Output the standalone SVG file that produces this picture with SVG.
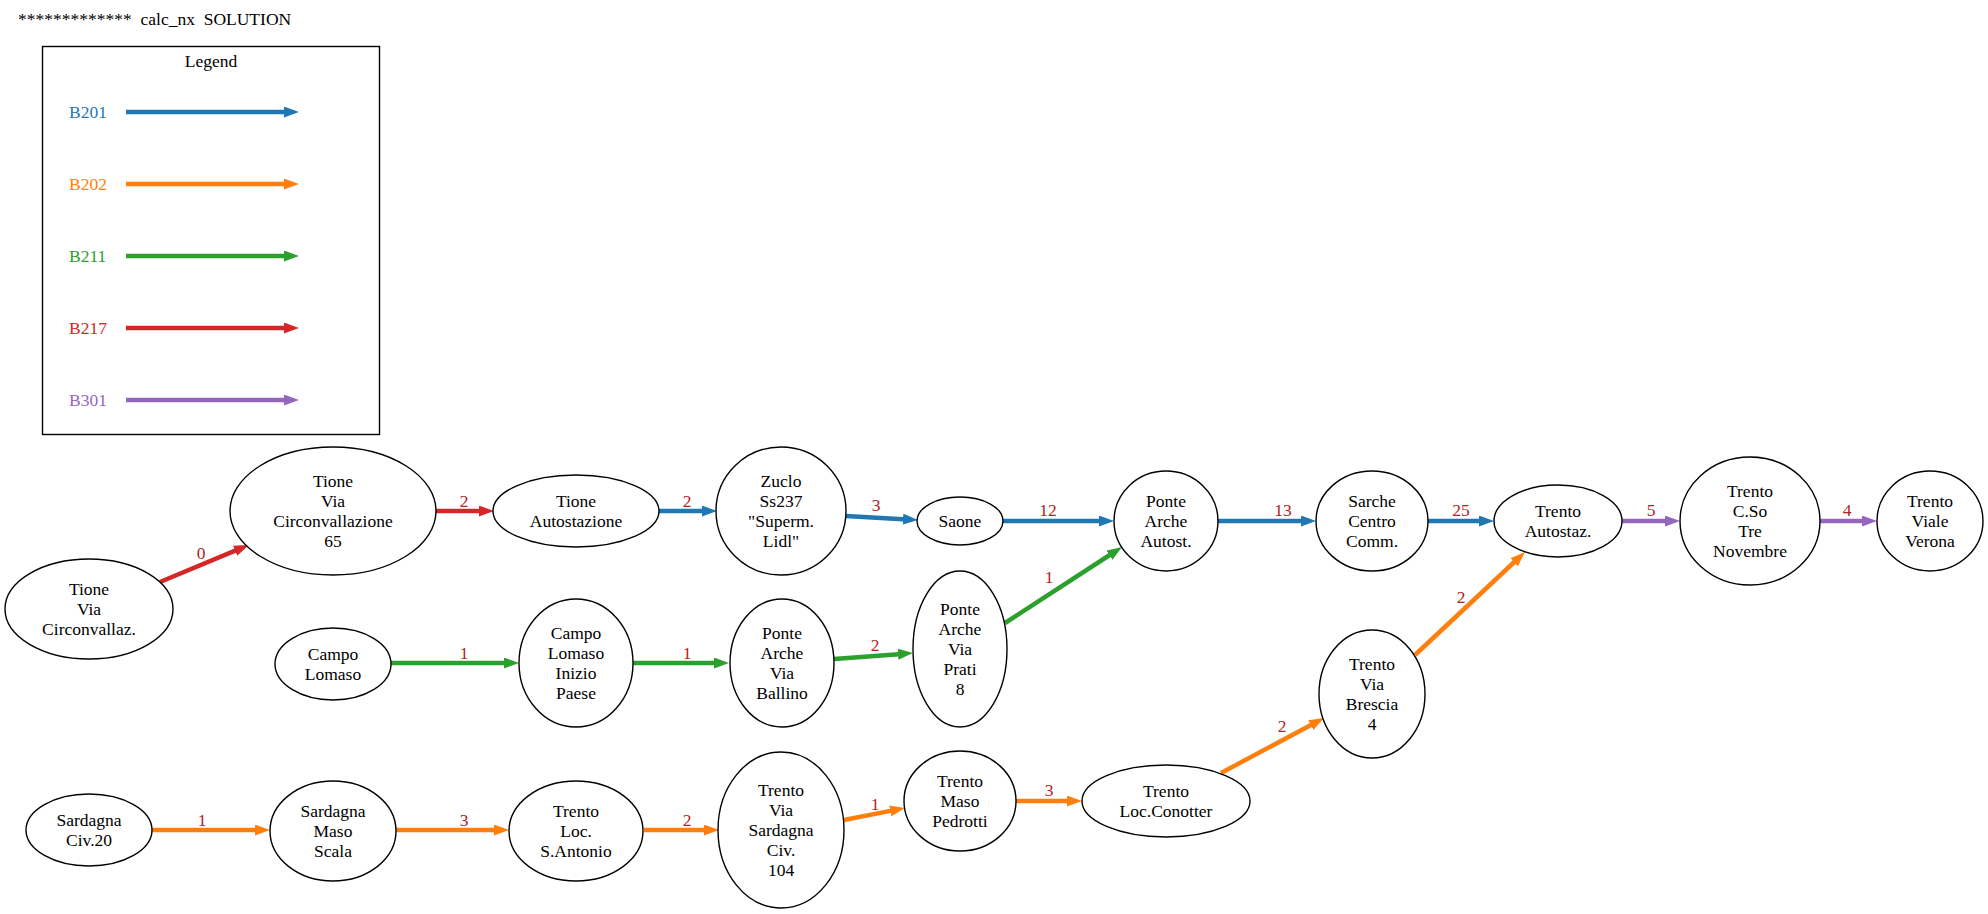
<svg xmlns="http://www.w3.org/2000/svg" width="1988" height="914" viewBox="0 0 1988 914" font-family="'Liberation Serif', 'Times New Roman', Times, 'DejaVu Serif', serif">
<style>
text{font-family:"Liberation Serif","Times New Roman",Times,"DejaVu Serif",serif;font-size:17.5px;fill:#000}
.nt{text-anchor:middle}
.el{text-anchor:middle;fill:#b22222}
.node ellipse{fill:#fff;stroke:#000;stroke-width:1.4}
.e{fill:none;stroke-width:4.5}
.b1{stroke:#1f77b4}.o1{stroke:#ff7f0e}.g1{stroke:#2ca02c}.r1{stroke:#d62728}.p1{stroke:#9467bd}
</style>
<defs>
<marker id="ab" markerUnits="userSpaceOnUse" markerWidth="15" markerHeight="11" refX="4" refY="5.5" orient="auto"><path d="M0,0 L15,5.5 L0,11 z" fill="#1f77b4"/></marker>
<marker id="ao" markerUnits="userSpaceOnUse" markerWidth="15" markerHeight="11" refX="4" refY="5.5" orient="auto"><path d="M0,0 L15,5.5 L0,11 z" fill="#ff7f0e"/></marker>
<marker id="ag" markerUnits="userSpaceOnUse" markerWidth="15" markerHeight="11" refX="4" refY="5.5" orient="auto"><path d="M0,0 L15,5.5 L0,11 z" fill="#2ca02c"/></marker>
<marker id="ar" markerUnits="userSpaceOnUse" markerWidth="15" markerHeight="11" refX="4" refY="5.5" orient="auto"><path d="M0,0 L15,5.5 L0,11 z" fill="#d62728"/></marker>
<marker id="ap" markerUnits="userSpaceOnUse" markerWidth="15" markerHeight="11" refX="4" refY="5.5" orient="auto"><path d="M0,0 L15,5.5 L0,11 z" fill="#9467bd"/></marker>
</defs>
<rect width="1988" height="914" fill="#fff"/>
<text x="18" y="25" xml:space="preserve">*************  calc_nx  SOLUTION</text>
<g id="legend">
<rect x="42.5" y="46.5" width="337" height="388" fill="none" stroke="#000" stroke-width="1.4"/>
<text x="211" y="67" class="nt">Legend</text>
<text x="69" y="118" style="fill:#1f77b4">B201</text>
<line x1="126" y1="112" x2="288" y2="112" class="e b1" marker-end="url(#ab)"/>
<text x="69" y="190" style="fill:#ff7f0e">B202</text>
<line x1="126" y1="184" x2="288" y2="184" class="e o1" marker-end="url(#ao)"/>
<text x="69" y="262" style="fill:#2ca02c">B211</text>
<line x1="126" y1="256" x2="288" y2="256" class="e g1" marker-end="url(#ag)"/>
<text x="69" y="334" style="fill:#d62728">B217</text>
<line x1="126" y1="328" x2="288" y2="328" class="e r1" marker-end="url(#ar)"/>
<text x="69" y="406" style="fill:#9467bd">B301</text>
<line x1="126" y1="400" x2="288" y2="400" class="e p1" marker-end="url(#ap)"/>
</g>
<g id="edges">
<line x1="160" y1="582" x2="238.8" y2="549.2" class="e r1" marker-end="url(#ar)"/><text x="201" y="559" class="el">0</text>
<line x1="436" y1="511" x2="483" y2="511" class="e r1" marker-end="url(#ar)"/><text x="464" y="507" class="el">2</text>
<line x1="659" y1="511" x2="706" y2="511" class="e b1" marker-end="url(#ab)"/><text x="687" y="507" class="el">2</text>
<line x1="846" y1="516" x2="907" y2="519.4" class="e b1" marker-end="url(#ab)"/><text x="876" y="511" class="el">3</text>
<line x1="1003" y1="521" x2="1103" y2="521" class="e b1" marker-end="url(#ab)"/><text x="1048" y="516" class="el">12</text>
<line x1="1218" y1="521" x2="1305" y2="521" class="e b1" marker-end="url(#ab)"/><text x="1283" y="516" class="el">13</text>
<line x1="1428" y1="521" x2="1483" y2="521" class="e b1" marker-end="url(#ab)"/><text x="1461" y="516" class="el">25</text>
<line x1="1622" y1="521" x2="1669" y2="521" class="e p1" marker-end="url(#ap)"/><text x="1651" y="516" class="el">5</text>
<line x1="1820" y1="521" x2="1866" y2="521" class="e p1" marker-end="url(#ap)"/><text x="1847" y="516" class="el">4</text>
<line x1="391" y1="663" x2="508" y2="663" class="e g1" marker-end="url(#ag)"/><text x="464" y="659" class="el">1</text>
<line x1="633" y1="663" x2="718" y2="663" class="e g1" marker-end="url(#ag)"/><text x="687" y="659" class="el">1</text>
<line x1="834" y1="659" x2="902" y2="653.9" class="e g1" marker-end="url(#ag)"/><text x="875" y="651" class="el">2</text>
<line x1="1005" y1="623" x2="1112.8" y2="553" class="e g1" marker-end="url(#ag)"/><text x="1049" y="583" class="el">1</text>
<line x1="152" y1="830" x2="259" y2="830" class="e o1" marker-end="url(#ao)"/><text x="202" y="826" class="el">1</text>
<line x1="396" y1="830" x2="498" y2="830" class="e o1" marker-end="url(#ao)"/><text x="464" y="826" class="el">3</text>
<line x1="644" y1="830" x2="708" y2="830" class="e o1" marker-end="url(#ao)"/><text x="687" y="826" class="el">2</text>
<line x1="844" y1="820" x2="894.2" y2="810.1" class="e o1" marker-end="url(#ao)"/><text x="875" y="810" class="el">1</text>
<line x1="1016" y1="801" x2="1071" y2="801" class="e o1" marker-end="url(#ao)"/><text x="1049" y="796" class="el">3</text>
<line x1="1221" y1="773" x2="1314.3" y2="723.2" class="e o1" marker-end="url(#ao)"/><text x="1282" y="732" class="el">2</text>
<line x1="1415" y1="655" x2="1517" y2="559.5" class="e o1" marker-end="url(#ao)"/><text x="1461" y="603" class="el">2</text>
</g>
<g id="n_tvcz" class="node"><ellipse cx="89" cy="609" rx="84" ry="50"/><text class="nt" x="89" y="595">Tione</text><text class="nt" x="89" y="615">Via</text><text class="nt" x="89" y="635">Circonvallaz.</text></g>
<g id="n_tvc65" class="node"><ellipse cx="333" cy="511" rx="103" ry="64"/><text class="nt" x="333" y="487">Tione</text><text class="nt" x="333" y="507">Via</text><text class="nt" x="333" y="527">Circonvallazione</text><text class="nt" x="333" y="547">65</text></g>
<g id="n_taut" class="node"><ellipse cx="576" cy="511" rx="83" ry="36"/><text class="nt" x="576" y="507">Tione</text><text class="nt" x="576" y="527">Autostazione</text></g>
<g id="n_zuclo" class="node"><ellipse cx="781" cy="511" rx="65" ry="64"/><text class="nt" x="781" y="487">Zuclo</text><text class="nt" x="781" y="507">Ss237</text><text class="nt" x="781" y="527">"Superm.</text><text class="nt" x="781" y="547">Lidl"</text></g>
<g id="n_saone" class="node"><ellipse cx="960" cy="521" rx="43" ry="24"/><text class="nt" x="960" y="527">Saone</text></g>
<g id="n_paa" class="node"><ellipse cx="1166" cy="521" rx="52" ry="50"/><text class="nt" x="1166" y="507">Ponte</text><text class="nt" x="1166" y="527">Arche</text><text class="nt" x="1166" y="547">Autost.</text></g>
<g id="n_sarche" class="node"><ellipse cx="1372" cy="521" rx="56" ry="50"/><text class="nt" x="1372" y="507">Sarche</text><text class="nt" x="1372" y="527">Centro</text><text class="nt" x="1372" y="547">Comm.</text></g>
<g id="n_taz" class="node"><ellipse cx="1558" cy="521" rx="64" ry="36"/><text class="nt" x="1558" y="517">Trento</text><text class="nt" x="1558" y="537">Autostaz.</text></g>
<g id="n_cso" class="node"><ellipse cx="1750" cy="521" rx="70" ry="64"/><text class="nt" x="1750" y="497">Trento</text><text class="nt" x="1750" y="517">C.So</text><text class="nt" x="1750" y="537">Tre</text><text class="nt" x="1750" y="557">Novembre</text></g>
<g id="n_vv" class="node"><ellipse cx="1930" cy="521" rx="53" ry="50"/><text class="nt" x="1930" y="507">Trento</text><text class="nt" x="1930" y="527">Viale</text><text class="nt" x="1930" y="547">Verona</text></g>
<g id="n_cl" class="node"><ellipse cx="333" cy="664" rx="58" ry="36"/><text class="nt" x="333" y="660">Campo</text><text class="nt" x="333" y="680">Lomaso</text></g>
<g id="n_clip" class="node"><ellipse cx="576" cy="663" rx="57" ry="64"/><text class="nt" x="576" y="639">Campo</text><text class="nt" x="576" y="659">Lomaso</text><text class="nt" x="576" y="679">Inizio</text><text class="nt" x="576" y="699">Paese</text></g>
<g id="n_pavb" class="node"><ellipse cx="782" cy="663" rx="52" ry="64"/><text class="nt" x="782" y="639">Ponte</text><text class="nt" x="782" y="659">Arche</text><text class="nt" x="782" y="679">Via</text><text class="nt" x="782" y="699">Ballino</text></g>
<g id="n_pavp" class="node"><ellipse cx="960" cy="649" rx="47" ry="78"/><text class="nt" x="960" y="615">Ponte</text><text class="nt" x="960" y="635">Arche</text><text class="nt" x="960" y="655">Via</text><text class="nt" x="960" y="675">Prati</text><text class="nt" x="960" y="695">8</text></g>
<g id="n_sc20" class="node"><ellipse cx="89" cy="830" rx="63" ry="36"/><text class="nt" x="89" y="826">Sardagna</text><text class="nt" x="89" y="846">Civ.20</text></g>
<g id="n_sms" class="node"><ellipse cx="333" cy="831" rx="63" ry="50"/><text class="nt" x="333" y="817">Sardagna</text><text class="nt" x="333" y="837">Maso</text><text class="nt" x="333" y="857">Scala</text></g>
<g id="n_tlsa" class="node"><ellipse cx="576" cy="831" rx="67" ry="50"/><text class="nt" x="576" y="817">Trento</text><text class="nt" x="576" y="837">Loc.</text><text class="nt" x="576" y="857">S.Antonio</text></g>
<g id="n_tvs" class="node"><ellipse cx="781" cy="830" rx="63" ry="78"/><text class="nt" x="781" y="796">Trento</text><text class="nt" x="781" y="816">Via</text><text class="nt" x="781" y="836">Sardagna</text><text class="nt" x="781" y="856">Civ.</text><text class="nt" x="781" y="876">104</text></g>
<g id="n_tmp" class="node"><ellipse cx="960" cy="801" rx="56" ry="50"/><text class="nt" x="960" y="787">Trento</text><text class="nt" x="960" y="807">Maso</text><text class="nt" x="960" y="827">Pedrotti</text></g>
<g id="n_tlc" class="node"><ellipse cx="1166" cy="801" rx="84" ry="36"/><text class="nt" x="1166" y="797">Trento</text><text class="nt" x="1166" y="817">Loc.Conotter</text></g>
<g id="n_tvb" class="node"><ellipse cx="1372" cy="694" rx="53" ry="64"/><text class="nt" x="1372" y="670">Trento</text><text class="nt" x="1372" y="690">Via</text><text class="nt" x="1372" y="710">Brescia</text><text class="nt" x="1372" y="730">4</text></g>
</svg>
